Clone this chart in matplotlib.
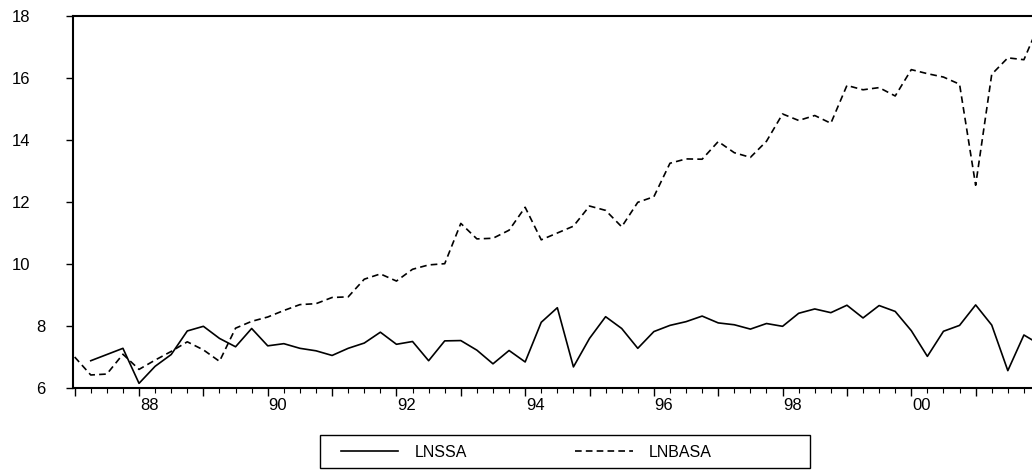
import matplotlib

matplotlib.use("Agg")
import matplotlib.pyplot as plt
import numpy as np
from matplotlib.patches import Rectangle
from matplotlib.transforms import ScaledTranslation

plt.rcParams["font.family"] = ["Liberation Sans", "DejaVu Sans"]

# quarterly observations, 1987Q1 .. 2002Q1
START_YEAR = 1987
lnssa = [
    np.nan, 6.88, 7.08, 7.28, 6.15, 6.70, 7.08, 7.84, 7.99, 7.60,
    7.33, 7.92, 7.36, 7.43, 7.28, 7.20, 7.05, 7.28, 7.45, 7.80,
    7.41, 7.50, 6.88, 7.52, 7.53, 7.22, 6.78, 7.21, 6.84, 8.12,
    8.59, 6.68, 7.60, 8.30, 7.92, 7.28, 7.82, 8.02, 8.14, 8.32,
    8.10, 8.04, 7.90, 8.08, 7.99, 8.41, 8.55, 8.43, 8.67, 8.26,
    8.66, 8.47, 7.85, 7.02, 7.83, 8.02, 8.68, 8.03, 6.56, 7.71,
    7.40,
]
lnbasa = [
    7.00, 6.42, 6.45, 7.09, 6.60, 6.90, 7.18, 7.49, 7.23, 6.86,
    7.93, 8.15, 8.29, 8.50, 8.69, 8.72, 8.92, 8.94, 9.51, 9.68,
    9.45, 9.83, 9.97, 10.01, 11.31, 10.81, 10.83, 11.09, 11.83, 10.78,
    11.00, 11.22, 11.87, 11.73, 11.20, 11.99, 12.17, 13.25, 13.39, 13.38,
    13.95, 13.59, 13.44, 13.96, 14.84, 14.63, 14.79, 14.54, 15.76, 15.62,
    15.69, 15.42, 16.27, 16.14, 16.03, 15.80, 12.54, 16.12, 16.65, 16.59,
    17.80,
]
years_major = list(range(1987, 2003))
labelled_years = [1988, 1990, 1992, 1994, 1996, 1998, 2000]
y_ticks = [6, 8, 10, 12, 14, 16, 18]

t = START_YEAR + np.arange(len(lnssa)) / 4.0

W, H, DPI = 1032, 473, 100
fig = plt.figure(figsize=(W / DPI, H / DPI), dpi=DPI)
# plot frame runs off the right edge of the picture, as in the scan
ax = fig.add_axes([73 / W, 1 - 388 / H, 967 / W, 372 / H])

ax.plot(t, lnssa, color="black", lw=1.2, label="LNSSA")
ax.plot(t, lnbasa, color="black", lw=1.2, ls=(0, (4, 2.5)), label="LNBASA")

ax.set_xlim(1986.974, 2002.0)
ax.set_ylim(6, 18)

for side in ("left", "top", "bottom"):
    ax.spines[side].set_linewidth(1.5)
ax.spines["right"].set_visible(False)

ax.set_xticks(years_major)
ax.set_xticklabels([f"{y % 100:02d}" if y in labelled_years else "" for y in years_major])
ax.set_xticks(np.arange(1987, 2002.01, 0.25), minor=True)
ax.set_yticks(y_ticks)
ax.set_yticklabels([str(v) for v in y_ticks])

ax.tick_params(axis="x", which="major", direction="out", length=5.5, width=1, pad=2, labelsize=12)
ax.tick_params(axis="x", which="minor", direction="out", length=3.5, width=0.8)
ax.tick_params(axis="y", direction="out", length=5, width=1, pad=15, labelsize=12)

# year labels sit a little right of their tick; two-digit y labels sit further left
for lbl in ax.get_xticklabels():
    lbl.set_transform(lbl.get_transform() + ScaledTranslation(10 / DPI, 0, fig.dpi_scale_trans))
for lbl, v in zip(ax.get_yticklabels(), y_ticks):
    if v >= 10:
        lbl.set_transform(lbl.get_transform() + ScaledTranslation(-15 / DPI, 0, fig.dpi_scale_trans))

ax.legend(
    loc="center left",
    bbox_to_anchor=(333 / W, 1 - 452 / H),
    bbox_transform=fig.transFigure,
    ncol=2,
    frameon=False,
    borderpad=0,
    handlelength=3.6,
    handletextpad=1.0,
    columnspacing=6.8,
    fontsize=11.5,
)
fig.add_artist(
    Rectangle((320 / W, 1 - 468 / H), 490 / W, 33 / H, transform=fig.transFigure,
              fill=False, edgecolor="black", linewidth=1.0)
)

fig.savefig("out.png", dpi=DPI)
plt.close(fig)
